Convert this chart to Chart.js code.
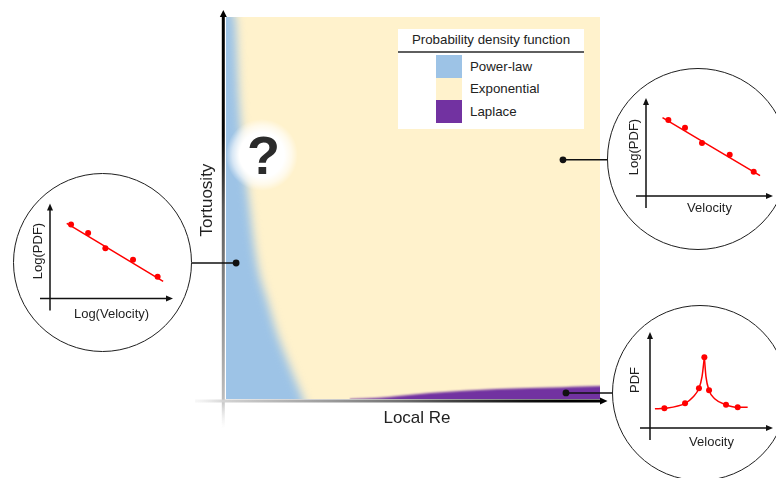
<!DOCTYPE html>
<html>
<head>
<meta charset="utf-8">
<script src="https://cdn.jsdelivr.net/npm/chart.js@4.4.1/dist/chart.umd.min.js"></script>
<style>
  html, body { margin: 0; padding: 0; background: #fff; overflow: hidden; }
  #stage { position: relative; width: 776px; height: 478px; overflow: hidden;
           font-family: "Liberation Sans", Arial, Helvetica, sans-serif; color: #222; }
  #main { position: absolute; left: 0; top: 0; }
  .axis-title { position: absolute; font-size: 17px; line-height: 1.15; white-space: nowrap; }
  #ytitle { left: 207px; top: 200px; transform: translate(-50%, -50%) rotate(-90deg); }
  #xtitle { left: 417px; top: 418px; transform: translate(-50%, -50%); }
  #legend { position: absolute; left: 398px; top: 29px; width: 186px; height: 100px;
            background: #fff; font-size: 13.3px; color: #222; }
  .lg-title { height: 22px; line-height: 22px; text-align: center; }
  .lg-rule { height: 2px; background: #5f5f5f; margin-bottom: 2px; }
  .lg-row { height: 22.5px; display: flex; align-items: center; }
  .lg-swatch { width: 26px; height: 100%; margin-left: 38px; margin-right: 8px; }
  .inset-canvas { position: absolute; }
  .inset-ring { position: absolute; box-sizing: border-box; border: 1.5px solid #1e1e1e;
                border-radius: 50%; pointer-events: none; }
</style>
</head>
<body>
<div id="stage">
  <canvas id="main" width="776" height="478"></canvas>
  <div class="axis-title" id="ytitle">Tortuosity</div>
  <div class="axis-title" id="xtitle">Local Re</div>
  <div id="legend"></div>
</div>
<script>
// ---- Regime map: Local Re (x, 0-100) vs Tortuosity (y, 0-100) ----
const legendTitle = 'Probability density function';
const regimes = ['Power-law', 'Exponential', 'Laplace'];
const regimeColors = ['#9dc3e6', '#fff2cc', '#7232a1'];

// Exponential covers the whole plane behind the other regimes
const exponentialRe   = [0, 100];
const exponentialTort = [100, 100];

// Power-law: boundary of the low-Re region (region lies below/left of it)
const powerLawRe   = [-10, 2.4, 3.5, 6.1, 8.3, 11.0, 13.6, 17.1, 20.6, 24];
const powerLawTort = [110, 100, 78, 52, 35.6, 25.9, 17.3, 8.4, 0, -10];

// Laplace: thin band along the high-Re edge
const laplaceRe   = [33, 41, 46, 54.5, 72.5, 90, 100, 104];
const laplaceTort = [0, 0.3, 0.8, 1.6, 2.6, 3.1, 3.4, 3.4];

// Unresolved spot marked with a question mark
const unknownRe   = [9.6];
const unknownTort = [63.9];

// Callout anchors, one per inset (power-law, exponential, Laplace)
const calloutRe   = [2.7, 90.1, 90.9];
const calloutTort = [35.6, 62.6, 1.6];

// ---- Inset 1: power-law PDF on log-log axes ----
const plVel    = [1.71, 3.1, 4.5, 6.75, 8.75];
const plPdf    = [7.79, 6.9, 5.3, 4.07, 2.28];
const plFitVel = [1.36, 9.2];
const plFitPdf = [7.9, 1.8];

// ---- Inset 2: exponential PDF on semi-log axes ----
const exVel    = [1.76, 3.07, 4.41, 6.59, 8.48];
const exPdf    = [7.76, 6.97, 5.41, 4.21, 2.48];
const exFitVel = [1.3, 8.98];
const exFitPdf = [8.0, 2.07];

// ---- Inset 3: Laplace PDF on linear axes ----
const lpVel      = [1.17, 2.85, 3.98, 4.42, 4.8, 6.18, 7.13];
const lpPdf      = [2.05, 2.57, 4.13, 7.36, 3.92, 2.43, 2.15];
const lpLeftVel  = [0.4, 1.17, 2.85, 3.52, 3.98, 4.23, 4.42];
const lpLeftPdf  = [2.0, 2.05, 2.57, 3.26, 4.13, 5.35, 7.36];
const lpRightVel = [4.42, 4.55, 4.8, 5.28, 6.18, 7.13, 7.94];
const lpRightPdf = [7.36, 5.35, 3.92, 3.02, 2.43, 2.15, 2.15];

// ---- Page layout of the round insets (pixels) ----
const insetLayout = [
  { cx: 102.5, cy: 262, r: 89.5, plot: { left: 37, top: 30.5, right: 160, bottom: 125.5 }, yTitleX: 25, xTitleY: 141 },
  { cx: 698,   cy: 159, r: 91,   plot: { left: 39, top: 30,   right: 166, bottom: 128 },   yTitleX: 27, xTitleY: 140 },
  { cx: 700,   cy: 393, r: 88,   plot: { left: 38, top: 27,   right: 161, bottom: 123 },   yTitleX: 23, xTitleY: 137.5 }
];

const FONT = '"Liberation Sans", Arial, Helvetica, sans-serif';
Chart.defaults.font.family = FONT;
Chart.defaults.color = '#222';

const pts = (xs, ys) => xs.map((x, i) => ({ x, y: ys[i] }));

// ---- Legend ----
document.getElementById('legend').innerHTML =
  `<div class="lg-title">${legendTitle}</div><div class="lg-rule"></div>` +
  regimes.map((name, i) =>
    `<div class="lg-row"><span class="lg-swatch" style="background:${regimeColors[i]}"></span><span>${name}</span></div>`
  ).join('');

// Soft regime edges: sets a blur filter for the dataset that is drawn next
// (the filler paints a dataset's area before per-dataset plugin hooks run).
const softEdges = {
  id: 'softEdges',
  beforeDatasetsDraw(chart) { chart.ctx.filter = 'none'; },
  afterDatasetDraw(chart, args) {
    const metas = chart.getSortedVisibleDatasetMetas();
    const next = metas[metas.indexOf(args.meta) - 1];
    const blur = next ? chart.data.datasets[next.index].edgeBlur : 0;
    chart.ctx.filter = blur ? `blur(${blur}px)` : 'none';
  },
  afterDatasetsDraw(chart) { chart.ctx.filter = 'none'; }
};

// Main axes: shaded arrows along the left and bottom of the plot
const mainAxes = {
  id: 'mainAxes',
  afterDatasetsDraw(chart) {
    const { ctx, chartArea: a } = chart;
    const ax = a.left - 2.7, ay = a.bottom + 2;
    ctx.save();
    ctx.lineWidth = 3;
    let g = ctx.createLinearGradient(0, a.top - 7, 0, a.bottom + 30);
    g.addColorStop(0, '#000');
    g.addColorStop(0.3, '#060606');
    g.addColorStop(0.47, '#5a5a5a');
    g.addColorStop(0.93, '#bdbdbd');
    g.addColorStop(1, 'rgba(235,235,235,0)');
    ctx.strokeStyle = g;
    ctx.beginPath(); ctx.moveTo(ax, a.top - 2); ctx.lineTo(ax, a.bottom + 30); ctx.stroke();
    ctx.fillStyle = '#000';
    ctx.beginPath(); ctx.moveTo(ax, a.top - 7); ctx.lineTo(ax - 3.5, a.top); ctx.lineTo(ax + 3.5, a.top); ctx.closePath(); ctx.fill();

    g = ctx.createLinearGradient(a.left - 31, 0, a.right + 7, 0);
    g.addColorStop(0, 'rgba(235,235,235,0.4)');
    g.addColorStop(0.075, '#d2d2d2');
    g.addColorStop(0.33, '#9a9a9a');
    g.addColorStop(0.5, '#707070');
    g.addColorStop(0.62, '#444');
    g.addColorStop(0.8, '#111');
    g.addColorStop(0.9, '#000');
    ctx.strokeStyle = g;
    ctx.beginPath(); ctx.moveTo(a.left - 31, ay); ctx.lineTo(a.right + 1, ay); ctx.stroke();
    ctx.beginPath(); ctx.moveTo(a.right + 7.5, ay); ctx.lineTo(a.right, ay - 3.5); ctx.lineTo(a.right, ay + 3.5); ctx.closePath(); ctx.fill();
    ctx.restore();
  }
};

// Leader lines from each callout anchor to the rim of its inset
const callouts = {
  id: 'callouts',
  afterDatasetsDraw(chart) {
    const { ctx } = chart;
    const meta = chart.getDatasetMeta(4);
    ctx.save();
    ctx.strokeStyle = '#111';
    ctx.lineWidth = 1.5;
    meta.data.forEach((pt, i) => {
      const c = insetLayout[i];
      const dy = pt.y - c.cy;
      const half = Math.sqrt(Math.max(c.r * c.r - dy * dy, 0));
      const edge = c.cx < pt.x ? c.cx + half : c.cx - half;
      ctx.beginPath(); ctx.moveTo(pt.x, pt.y); ctx.lineTo(edge, pt.y); ctx.stroke();
    });
    ctx.restore();
  }
};

// Question mark over the white halo
const questionMark = {
  id: 'questionMark',
  afterDatasetsDraw(chart) {
    const { ctx } = chart;
    const el = chart.getDatasetMeta(3).data[0];
    if (!el) return;
    ctx.save();
    ctx.font = 'bold 54px ' + FONT;
    ctx.fillStyle = '#2b2b2b';
    ctx.textAlign = 'center';
    ctx.textBaseline = 'alphabetic';
    ctx.fillText('?', el.x + 1.5, el.y + 19);
    ctx.restore();
  }
};

// White radial halo; scales may not be laid out on the first resolve
function haloFill(c) {
  const fallback = 'rgba(255,255,255,0.9)';
  if (c.type !== 'data' || !c.raw) return fallback;
  const chart = c.chart;
  const px = chart.scales.x.getPixelForValue(c.raw.x);
  const py = chart.scales.y.getPixelForValue(c.raw.y);
  if (!Number.isFinite(px) || !Number.isFinite(py)) return fallback;
  const g = chart.ctx.createRadialGradient(px, py, 0, px, py, 36);
  g.addColorStop(0, 'rgba(255,255,255,1)');
  g.addColorStop(0.62, 'rgba(255,255,255,1)');
  g.addColorStop(0.82, 'rgba(255,255,255,0.6)');
  g.addColorStop(1, 'rgba(255,255,255,0)');
  return g;
}

const region = (label, xs, ys, color, fill, order, extra) => Object.assign({
  label, data: pts(xs, ys), backgroundColor: color, borderColor: 'transparent',
  borderWidth: 0, pointRadius: 0, fill, order
}, extra || {});

new Chart(document.getElementById('main'), {
  type: 'line',
  data: {
    datasets: [
      region(regimes[1], exponentialRe, exponentialTort, regimeColors[1], 'origin', 4),
      region(regimes[0], powerLawRe, powerLawTort, regimeColors[0], { value: -10 }, 3,
             { cubicInterpolationMode: 'monotone', edgeBlur: 5 }),
      region(regimes[2], laplaceRe, laplaceTort, regimeColors[2], { value: -3 }, 2,
             { cubicInterpolationMode: 'monotone', edgeBlur: 1.2 }),
      { label: 'unknown', data: pts(unknownRe, unknownTort), showLine: false, order: 1,
        pointRadius: 36, pointHoverRadius: 36, pointBorderWidth: 0,
        pointBorderColor: 'transparent', pointBackgroundColor: haloFill, clip: false },
      { label: 'callouts', data: pts(calloutRe, calloutTort), showLine: false, order: 0,
        pointRadius: 3.4, pointHoverRadius: 3.4, pointBorderWidth: 0,
        pointBorderColor: 'transparent', pointBackgroundColor: '#111' }
    ]
  },
  options: {
    responsive: false, animation: false, devicePixelRatio: 1, events: [],
    layout: { autoPadding: false, padding: { left: 226, top: 17, right: 176, bottom: 79 } },
    scales: {
      x: { type: 'linear', min: 0, max: 100, display: false },
      y: { type: 'linear', min: 0, max: 100, display: false }
    },
    plugins: { legend: { display: false }, tooltip: { enabled: false } }
  },
  plugins: [softEdges, mainAxes, callouts, questionMark]
});

// ---- Insets ----
const arrowAxes = {
  id: 'arrowAxes',
  beforeDatasetsDraw(chart, args, o) {
    const { ctx, chartArea: a } = chart;
    ctx.save();
    ctx.strokeStyle = o.color; ctx.fillStyle = o.color; ctx.lineWidth = o.width;
    ctx.beginPath();
    ctx.moveTo(a.left, a.bottom + o.tailY); ctx.lineTo(a.left, a.top + o.head);
    ctx.moveTo(a.left - o.tailX, a.bottom); ctx.lineTo(a.right - o.head, a.bottom);
    ctx.stroke();
    ctx.beginPath(); ctx.moveTo(a.left, a.top); ctx.lineTo(a.left - o.half, a.top + o.head + 1);
    ctx.lineTo(a.left + o.half, a.top + o.head + 1); ctx.closePath(); ctx.fill();
    ctx.beginPath(); ctx.moveTo(a.right, a.bottom); ctx.lineTo(a.right - o.head - 1, a.bottom - o.half);
    ctx.lineTo(a.right - o.head - 1, a.bottom + o.half); ctx.closePath(); ctx.fill();
    ctx.restore();
  }
};

const insetSeries = [
  { xTitle: 'Log(Velocity)', yTitle: 'Log(PDF)', dotsX: plVel, dotsY: plPdf,
    curves: [[plFitVel, plFitPdf]] },
  { xTitle: 'Velocity', yTitle: 'Log(PDF)', dotsX: exVel, dotsY: exPdf,
    curves: [[exFitVel, exFitPdf]] },
  { xTitle: 'Velocity', yTitle: 'PDF', dotsX: lpVel, dotsY: lpPdf,
    curves: [[lpLeftVel, lpLeftPdf], [lpRightVel, lpRightPdf]] }
];

const RED = '#ff0000';
const TITLE_SIZE = 13, LH = TITLE_SIZE * 1.2;
const stage = document.getElementById('stage');

insetSeries.forEach((s, i) => {
  const L = insetLayout[i];
  const size = Math.round(2 * L.r);
  const ox = L.cx - L.r, oy = L.cy - L.r;

  const canvas = document.createElement('canvas');
  canvas.className = 'inset-canvas';
  canvas.width = size; canvas.height = size;
  canvas.style.left = ox + 'px'; canvas.style.top = oy + 'px';
  stage.appendChild(canvas);

  const ring = document.createElement('div');
  ring.className = 'inset-ring';
  Object.assign(ring.style, { left: ox + 'px', top: oy + 'px', width: size + 'px', height: size + 'px' });
  stage.appendChild(ring);

  const padLeft = L.yTitleX - LH / 2;
  const yPadB = L.plot.left - padLeft - LH;
  const xPadT = L.xTitleY - L.plot.bottom - LH / 2;
  const padBottom = size - (L.plot.bottom + LH + xPadT);

  const datasets = s.curves.map(([xs, ys]) => ({
    data: pts(xs, ys), borderColor: RED, borderWidth: 1.5, pointRadius: 0,
    fill: false, cubicInterpolationMode: 'monotone'
  }));
  datasets.unshift({
    data: pts(s.dotsX, s.dotsY), showLine: false, pointRadius: 3, pointHoverRadius: 3,
    pointBackgroundColor: RED, pointBorderWidth: 0, pointBorderColor: RED
  });

  const axisOpts = (title, padding) => ({
    type: 'linear', min: 0, max: 10,
    ticks: { display: false },
    grid: { display: false, drawTicks: false },
    border: { display: false },
    title: { display: true, text: title, color: '#1f1f1f',
             font: { size: TITLE_SIZE, family: FONT }, padding }
  });

  new Chart(canvas, {
    type: 'line',
    data: { datasets },
    options: {
      responsive: false, animation: false, devicePixelRatio: 1, events: [],
      layout: { autoPadding: false,
                padding: { left: padLeft, top: L.plot.top, right: size - L.plot.right, bottom: padBottom } },
      scales: {
        x: axisOpts(s.xTitle, { top: xPadT, bottom: 0 }),
        y: axisOpts(s.yTitle, { top: 0, bottom: yPadB })
      },
      plugins: {
        legend: { display: false }, tooltip: { enabled: false },
        arrowAxes: { color: '#111', width: 1.5, head: 6, half: 3, tailX: 10, tailY: 12 }
      }
    },
    plugins: [arrowAxes]
  });
});
</script>
</body>
</html>
